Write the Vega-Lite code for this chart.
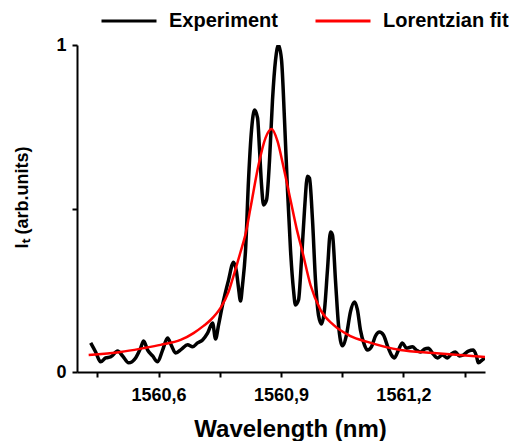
{
  "$schema": "https://vega.github.io/schema/vega-lite/v6.json",
  "autosize": "none",
  "width": 408,
  "height": 327,
  "padding": {"left": 77, "top": 45, "right": 34, "bottom": 69},
  "background": "white",
  "config": {
    "view": {"stroke": null},
    "font": "Liberation Sans",
    "axis": {"grid": false, "domainColor": "black", "domainWidth": 2, "tickColor": "black", "tickWidth": 2, "tickSize": 5, "labelColor": "black", "labelFont": "Liberation Sans", "labelFontWeight": "bold", "labelFontSize": 18, "titleColor": "black", "titleFont": "Liberation Sans", "titleFontWeight": "bold"}
  },
  "datasets": {
    "exp": [
      {"wl":1560.4335,"I":0.089},{"wl":1560.4457,"I":0.061},{"wl":1560.4579,"I":0.031},{"wl":1560.4702,"I":0.043},{"wl":1560.4824,"I":0.046},{"wl":1560.4996,"I":0.064},{"wl":1560.5118,"I":0.049},{"wl":1560.5265,"I":0.028},{"wl":1560.5437,"I":0.043},{"wl":1560.5559,"I":0.073},{"wl":1560.5633,"I":0.095},{"wl":1560.5731,"I":0.067},{"wl":1560.5853,"I":0.049},{"wl":1560.5976,"I":0.031},{"wl":1560.6098,"I":0.067},{"wl":1560.622,"I":0.104},{"wl":1560.6318,"I":0.08},{"wl":1560.6416,"I":0.058},{"wl":1560.6563,"I":0.07},{"wl":1560.671,"I":0.083},{"wl":1560.6833,"I":0.077},{"wl":1560.6955,"I":0.089},{"wl":1560.7078,"I":0.098},{"wl":1560.72,"I":0.119},{"wl":1560.7323,"I":0.15},{"wl":1560.7396,"I":0.101},{"wl":1560.747,"I":0.144},{"wl":1560.7567,"I":0.205},{"wl":1560.7714,"I":0.281},{"wl":1560.7837,"I":0.336},{"wl":1560.791,"I":0.306},{"wl":1560.7959,"I":0.257},{"wl":1560.8008,"I":0.217},{"wl":1560.8057,"I":0.266},{"wl":1560.8131,"I":0.373},{"wl":1560.8204,"I":0.587},{"wl":1560.8278,"I":0.74},{"wl":1560.8351,"I":0.801},{"wl":1560.8425,"I":0.777},{"wl":1560.8474,"I":0.679},{"wl":1560.8523,"I":0.572},{"wl":1560.8572,"I":0.511},{"wl":1560.8645,"I":0.526},{"wl":1560.8719,"I":0.648},{"wl":1560.8792,"I":0.832},{"wl":1560.8866,"I":0.954},{"wl":1560.8939,"I":1.0},{"wl":1560.9013,"I":0.954},{"wl":1560.9086,"I":0.771},{"wl":1560.9159,"I":0.557},{"wl":1560.9233,"I":0.373},{"wl":1560.9306,"I":0.251},{"wl":1560.9355,"I":0.205},{"wl":1560.9429,"I":0.22},{"wl":1560.9502,"I":0.343},{"wl":1560.9576,"I":0.495},{"wl":1560.9649,"I":0.599},{"wl":1560.9698,"I":0.593},{"wl":1560.9772,"I":0.465},{"wl":1560.9845,"I":0.281},{"wl":1560.9919,"I":0.174},{"wl":1560.9992,"I":0.147},{"wl":1561.0066,"I":0.19},{"wl":1561.0139,"I":0.312},{"wl":1561.0213,"I":0.428},{"wl":1561.0262,"I":0.419},{"wl":1561.0335,"I":0.281},{"wl":1561.0409,"I":0.144},{"wl":1561.0507,"I":0.08},{"wl":1561.0604,"I":0.113},{"wl":1561.0702,"I":0.184},{"wl":1561.08,"I":0.214},{"wl":1561.0874,"I":0.19},{"wl":1561.0947,"I":0.128},{"wl":1561.1045,"I":0.083},{"wl":1561.1119,"I":0.067},{"wl":1561.1217,"I":0.077},{"wl":1561.1315,"I":0.11},{"wl":1561.1413,"I":0.122},{"wl":1561.1511,"I":0.113},{"wl":1561.1609,"I":0.08},{"wl":1561.1707,"I":0.052},{"wl":1561.178,"I":0.043},{"wl":1561.1878,"I":0.067},{"wl":1561.1976,"I":0.089},{"wl":1561.2074,"I":0.073},{"wl":1561.2221,"I":0.077},{"wl":1561.2319,"I":0.067},{"wl":1561.2417,"I":0.061},{"wl":1561.2515,"I":0.07},{"wl":1561.2613,"I":0.073},{"wl":1561.2711,"I":0.058},{"wl":1561.2833,"I":0.043},{"wl":1561.2956,"I":0.052},{"wl":1561.3078,"I":0.043},{"wl":1561.3176,"I":0.055},{"wl":1561.3274,"I":0.061},{"wl":1561.3372,"I":0.049},{"wl":1561.347,"I":0.052},{"wl":1561.3593,"I":0.064},{"wl":1561.3715,"I":0.067},{"wl":1561.3789,"I":0.049},{"wl":1561.3838,"I":0.028},{"wl":1561.3935,"I":0.037},{"wl":1561.4,"I":0.043}
    ],
    "fit": [
      {"wl":1560.4286,"I":0.052},{"wl":1560.5069,"I":0.061},{"wl":1560.5633,"I":0.073},{"wl":1560.6049,"I":0.083},{"wl":1560.6539,"I":0.098},{"wl":1560.6857,"I":0.119},{"wl":1560.7102,"I":0.141},{"wl":1560.7274,"I":0.159},{"wl":1560.7518,"I":0.196},{"wl":1560.7714,"I":0.245},{"wl":1560.7837,"I":0.294},{"wl":1560.8008,"I":0.367},{"wl":1560.8131,"I":0.422},{"wl":1560.8253,"I":0.502},{"wl":1560.8449,"I":0.633},{"wl":1560.8621,"I":0.716},{"wl":1560.8768,"I":0.743},{"wl":1560.8914,"I":0.706},{"wl":1560.9061,"I":0.627},{"wl":1560.9233,"I":0.526},{"wl":1560.938,"I":0.44},{"wl":1560.9527,"I":0.367},{"wl":1560.9723,"I":0.266},{"wl":1560.9968,"I":0.19},{"wl":1561.0286,"I":0.144},{"wl":1561.0702,"I":0.11},{"wl":1561.1119,"I":0.092},{"wl":1561.1927,"I":0.067},{"wl":1561.2735,"I":0.058},{"wl":1561.4,"I":0.046}
    ]
  },
  "encoding": {
    "x": {"field": "wl", "type": "quantitative", "scale": {"domain": [1560.4, 1561.4], "nice": false, "zero": false},
      "axis": {"values": [1560.45, 1560.6, 1560.75, 1560.9, 1561.05, 1561.2, 1561.35], "labelExpr": "(abs(datum.value-1560.6)<0.001 || abs(datum.value-1560.9)<0.001 || abs(datum.value-1561.2)<0.001) ? replace(format(datum.value, '.1f'), '.', ',') : ''", "labelPadding": 9, "labelFlush": false, "labelOverlap": false, "title": "Wavelength (nm)", "titleFontSize": 24, "titleX": 213, "titleY": 64, "titleBaseline": "alphabetic", "titleAnchor": "middle"}},
    "y": {"field": "I", "type": "quantitative", "scale": {"domain": [0, 1], "nice": false},
      "axis": {"values": [0, 0.5, 1], "labelExpr": "datum.value == 0.5 ? '' : format(datum.value, 'd')", "labelPadding": 6, "labelFlush": false, "title": "Iₜ (arb.units)", "titleFontSize": 18, "titleX": -55, "titleY": 152, "titleAngle": -90, "titleBaseline": "middle", "titleAlign": "center"}},
    "color": {"datum": "Experiment", "type": "nominal", "scale": {"domain": ["Experiment", "Lorentzian fit"], "range": ["black", "red"]},
      "legend": {"title": null, "orient": "none", "direction": "horizontal", "legendX": 23, "legendY": -53, "symbolType": "stroke", "symbolSize": 3025, "symbolStrokeWidth": 3, "labelFontSize": 20, "labelFontWeight": "bold", "labelFont": "Liberation Sans", "labelColor": "black", "labelOffset": 11, "columnPadding": 31}}
  },
  "layer": [
    {"data": {"name": "exp"}, "mark": {"type": "line", "strokeWidth": 3.5, "interpolate": "monotone", "clip": true}, "encoding": {"color": {"datum": "Experiment", "type": "nominal"}}},
    {"data": {"name": "fit"}, "mark": {"type": "line", "strokeWidth": 2.5, "interpolate": "monotone", "clip": true}, "encoding": {"color": {"datum": "Lorentzian fit", "type": "nominal"}}}
  ]
}
